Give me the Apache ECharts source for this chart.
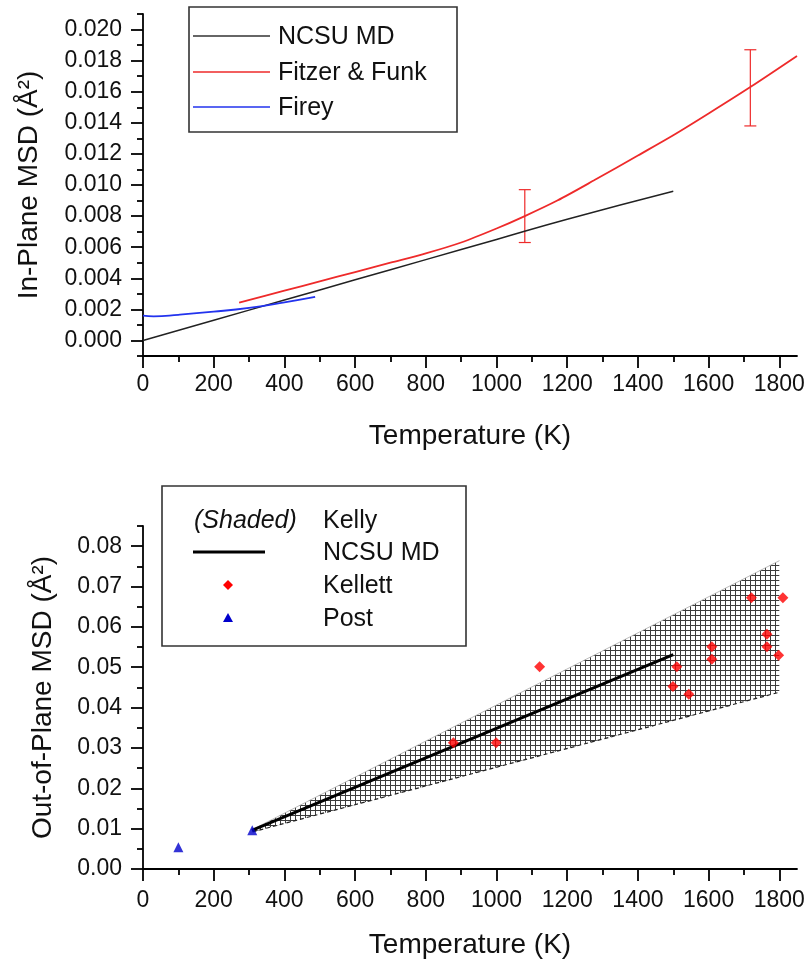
<!DOCTYPE html>
<html>
<head>
<meta charset="utf-8">
<script src="https://cdn.jsdelivr.net/npm/echarts@6/dist/echarts.min.js"></script>
<style>
  html, body { margin: 0; padding: 0; background: #fff; }
  #main { width: 809px; height: 966px; }
</style>
</head>
<body>
<div id="main"></div>
<script>
// ---- top panel: in-plane MSD ----
const ncsuTopT = [0, 200, 400, 600, 800, 1000, 1200, 1500];
const ncsuTopMsd = [0.0000, 0.0013, 0.0026, 0.0039, 0.0052, 0.0065, 0.0078, 0.0096];

const fitzerT = [272, 400, 500, 600, 700, 800, 900, 1000, 1080, 1172, 1276, 1400, 1500, 1600, 1718, 1850];
const fitzerMsd = [0.00243, 0.0032, 0.0038, 0.0044, 0.0050, 0.0056, 0.0063, 0.0072, 0.0080, 0.0090, 0.0103, 0.0119, 0.0132, 0.0146, 0.0163, 0.0183];

const fireyT = [0, 30, 100, 200, 300, 400, 487];
const fireyMsd = [0.00160, 0.00155, 0.00165, 0.00185, 0.00210, 0.00245, 0.00280];

// Fitzer & Funk error bars
const errT = [1080, 1718];
const errLow = [0.0063, 0.0138];
const errHigh = [0.0097, 0.0187];

// ---- bottom panel: out-of-plane MSD ----
const kellyT = [310, 1800];
const kellyLow = [0.0092, 0.0438];
const kellyHigh = [0.0098, 0.0764];

const ncsuBotT = [308, 1500];
const ncsuBotMsd = [0.0096, 0.0531];

const kellettT = [878, 999, 1122, 1499, 1510, 1544, 1609, 1609, 1721, 1765, 1765, 1798, 1810];
const kellettMsd = [0.0313, 0.0313, 0.0501, 0.0452, 0.0501, 0.0433, 0.0520, 0.0551, 0.0672, 0.0551, 0.0582, 0.0530, 0.0672];

const postT = [100, 309];
const postMsd = [0.0054, 0.0096];

// ---- ticks ----
const xMajor = [0, 200, 400, 600, 800, 1000, 1200, 1400, 1600, 1800];
const xMinor = [100, 300, 500, 700, 900, 1100, 1300, 1500, 1700];
const topYMajor = [0, 0.002, 0.004, 0.006, 0.008, 0.010, 0.012, 0.014, 0.016, 0.018, 0.020];
const topYMinor = [-0.001, 0.001, 0.003, 0.005, 0.007, 0.009, 0.011, 0.013, 0.015, 0.017, 0.019, 0.021];
const botYMajor = [0, 0.01, 0.02, 0.03, 0.04, 0.05, 0.06, 0.07, 0.08];
const botYMinor = [0.005, 0.015, 0.025, 0.035, 0.045, 0.055, 0.065, 0.075, 0.085];

const FONT = '"Liberation Sans", Arial, sans-serif';
const RED = '#ee2a2a';
const BLUE = '#2233ee';

function zip(a, b) {
  return a.map(function (v, i) { return [v, b[i]]; });
}

// crosshatch fill for the Kelly band
function hatch() {
  const c = document.createElement('canvas');
  c.width = 5; c.height = 5;
  const g = c.getContext('2d');
  g.fillStyle = '#3c3c3c';
  g.fillRect(0, 0, 5, 1);
  g.fillRect(0, 0, 1, 5);
  return c;
}

function majorX(grid, name, gap) {
  return {
    type: 'value', gridIndex: grid, min: 0, max: 1850, position: 'bottom', offset: 0,
    axisLine: { onZero: false, lineStyle: { color: '#000', width: 1.8 } },
    axisTick: { length: 12, lineStyle: { color: '#000', width: 1.8 }, customValues: xMajor },
    axisLabel: {
      customValues: xMajor, margin: grid === 0 ? 17 : 20, color: '#111', fontSize: 23, fontFamily: FONT,
      formatter: function (v) { return String(v); }
    },
    splitLine: { show: false },
    name: name, nameLocation: 'middle', nameGap: gap,
    nameTextStyle: { fontSize: 28, fontFamily: FONT, color: '#111' }
  };
}

function minorX(grid) {
  return {
    type: 'value', gridIndex: grid, min: 0, max: 1850, position: 'bottom', offset: 0,
    axisLine: { show: false, onZero: false },
    axisTick: { length: 6, lineStyle: { color: '#000', width: 1.8 }, customValues: xMinor },
    axisLabel: { show: false },
    splitLine: { show: false }
  };
}

function majorY(grid, min, max, ticks, digits, name, gap) {
  return {
    type: 'value', gridIndex: grid, min: min, max: max, position: 'left', offset: 0,
    axisLine: { onZero: false, lineStyle: { color: '#000', width: 1.8 } },
    axisTick: { length: 12, lineStyle: { color: '#000', width: 1.8 }, customValues: ticks },
    axisLabel: {
      customValues: ticks, margin: 21, color: '#111', fontSize: 23, fontFamily: FONT,
      formatter: function (v) { return v.toFixed(digits); }
    },
    splitLine: { show: false },
    name: name, nameLocation: 'middle', nameGap: gap, nameRotate: 90,
    nameTextStyle: { fontSize: 28, fontFamily: FONT, color: '#111' }
  };
}

function minorY(grid, min, max, ticks) {
  return {
    type: 'value', gridIndex: grid, min: min, max: max, position: 'left', offset: 0,
    axisLine: { show: false, onZero: false },
    axisTick: { length: 6, lineStyle: { color: '#000', width: 1.8 }, customValues: ticks },
    axisLabel: { show: false },
    splitLine: { show: false }
  };
}

function txt(s, x, y, extra) {
  return {
    type: 'text', z: 100,
    style: Object.assign({ text: s, x: x, y: y, fill: '#111', fontSize: 25, fontFamily: FONT, verticalAlign: 'middle' }, extra || {})
  };
}

function hline(x1, x2, y, color, w) {
  return { type: 'line', z: 100, shape: { x1: x1, y1: y, x2: x2, y2: y }, style: { stroke: color, lineWidth: w } };
}

let myChart;

function init() {
  myChart = echarts.init(document.getElementById('main'), null, { renderer: 'canvas' });

  const hatchFill = { image: hatch(), repeat: 'repeat' };

  const option = {
    animation: false,
    backgroundColor: '#fff',
    grid: [
      { left: 143, top: 14, width: 654, height: 342 },
      { left: 143, top: 526, width: 654, height: 343 }
    ],
    xAxis: [
      majorX(0, 'Temperature (K)', 66),
      minorX(0),
      majorX(1, 'Temperature (K)', 62),
      minorX(1)
    ],
    yAxis: [
      majorY(0, -0.001, 0.021, topYMajor, 3, 'In-Plane MSD (Å²)', 100),
      minorY(0, -0.001, 0.021, topYMinor),
      majorY(1, 0, 0.085, botYMajor, 2, 'Out-of-Plane MSD (Å²)', 86),
      minorY(1, 0, 0.085, botYMinor)
    ],
    graphic: [
      // top legend
      { type: 'rect', z: 99, shape: { x: 189, y: 7, width: 268, height: 125 }, style: { fill: '#fff', stroke: '#333', lineWidth: 1.6 } },
      hline(193, 270, 36, '#333', 1.4),
      hline(193, 270, 72, RED, 1.4),
      hline(193, 270, 107, BLUE, 1.4),
      txt('NCSU MD', 278, 37),
      txt('Fitzer & Funk', 278, 73),
      txt('Firey', 278, 108),
      // bottom legend
      { type: 'rect', z: 99, shape: { x: 162, y: 486, width: 304, height: 160 }, style: { fill: '#fff', stroke: '#333', lineWidth: 1.6 } },
      txt('(Shaded)', 194, 521, { fontStyle: 'italic' }),
      txt('Kelly', 323, 521),
      hline(193, 265, 552, '#000', 3),
      txt('NCSU MD', 323, 553),
      { type: 'polygon', z: 100, shape: { points: [[228, 580], [233, 585], [228, 590], [223, 585]] }, style: { fill: '#f00' } },
      txt('Kellett', 323, 586),
      { type: 'polygon', z: 100, shape: { points: [[228, 613], [233, 622], [223, 622]] }, style: { fill: '#0000cc' } },
      txt('Post', 323, 619)
    ],
    series: [
      {
        name: 'NCSU MD', type: 'line', xAxisIndex: 0, yAxisIndex: 0,
        data: zip(ncsuTopT, ncsuTopMsd), symbol: 'none', smooth: true,
        lineStyle: { color: '#222', width: 1.5 }
      },
      {
        name: 'Fitzer & Funk', type: 'line', xAxisIndex: 0, yAxisIndex: 0,
        data: zip(fitzerT, fitzerMsd), symbol: 'none', smooth: 0.3,
        lineStyle: { color: RED, width: 1.8 }
      },
      {
        name: 'Fitzer & Funk error', type: 'custom', xAxisIndex: 0, yAxisIndex: 0,
        data: errT.map(function (t, i) { return [t, errLow[i], errHigh[i]]; }),
        encode: { x: 0, y: [1, 2] },
        renderItem: function (params, api) {
          const top = api.coord([api.value(0), api.value(2)]);
          const bot = api.coord([api.value(0), api.value(1)]);
          const s = { stroke: RED, lineWidth: 1.2 };
          return {
            type: 'group',
            children: [
              { type: 'line', shape: { x1: top[0], y1: top[1], x2: bot[0], y2: bot[1] }, style: s },
              { type: 'line', shape: { x1: top[0] - 6, y1: top[1], x2: top[0] + 6, y2: top[1] }, style: s },
              { type: 'line', shape: { x1: bot[0] - 6, y1: bot[1], x2: bot[0] + 6, y2: bot[1] }, style: s }
            ]
          };
        }
      },
      {
        name: 'Firey', type: 'line', xAxisIndex: 0, yAxisIndex: 0,
        data: zip(fireyT, fireyMsd), symbol: 'none', smooth: true,
        lineStyle: { color: BLUE, width: 1.8 }
      },
      {
        // Kelly band: one polygon between the low and high bounds
        name: 'Kelly', type: 'custom', xAxisIndex: 2, yAxisIndex: 2, z: 1,
        data: kellyT.map(function (t, i) { return [t, kellyLow[i], kellyHigh[i]]; }),
        encode: { x: 0, y: [1, 2] },
        renderItem: function (params, api) {
          if (params.dataIndex !== 0) return null;
          const upper = kellyT.map(function (t, i) { return api.coord([t, kellyHigh[i]]); });
          const lower = kellyT.map(function (t, i) { return api.coord([t, kellyLow[i]]); }).reverse();
          return {
            type: 'polygon',
            shape: { points: upper.concat(lower) },
            style: { fill: hatchFill, stroke: null }
          };
        }
      },
      {
        name: 'Kelly upper', type: 'line', xAxisIndex: 2, yAxisIndex: 2, z: 2,
        data: zip(kellyT, kellyHigh), symbol: 'none',
        lineStyle: { color: '#aaa', width: 0.8 }
      },
      {
        name: 'Kelly lower', type: 'line', xAxisIndex: 2, yAxisIndex: 2, z: 2,
        data: zip(kellyT, kellyLow), symbol: 'none',
        lineStyle: { color: '#222', width: 1.2, type: [4, 3] }
      },
      {
        name: 'NCSU MD (out-of-plane)', type: 'line', xAxisIndex: 2, yAxisIndex: 2,
        data: zip(ncsuBotT, ncsuBotMsd), symbol: 'none', z: 3,
        lineStyle: { color: '#000', width: 3 }
      },
      {
        name: 'Kellett', type: 'scatter', xAxisIndex: 2, yAxisIndex: 2,
        data: zip(kellettT, kellettMsd), symbol: 'diamond', symbolSize: 11, z: 4,
        itemStyle: { color: '#f00' }
      },
      {
        name: 'Post', type: 'scatter', xAxisIndex: 2, yAxisIndex: 2,
        data: zip(postT, postMsd), symbol: 'triangle', symbolSize: 10, z: 4,
        itemStyle: { color: '#0000cc' }
      }
    ]
  };

  myChart.setOption(option);
  window.onresize = myChart.resize;
}

init();
</script>
</body>
</html>
